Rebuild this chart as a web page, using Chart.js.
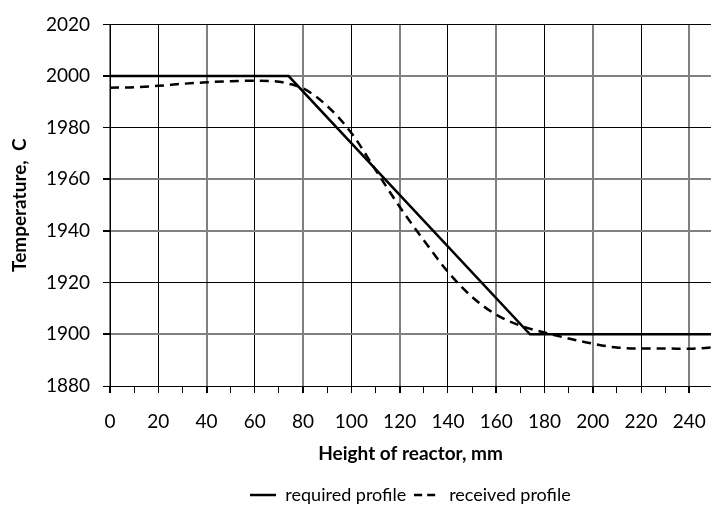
<!DOCTYPE html>
<html>
<head>
<meta charset="utf-8">
<script src="https://cdn.jsdelivr.net/npm/chart.js@4.4.0/dist/chart.umd.min.js"></script>
<style>
    html, body { margin: 0; padding: 0; background: #fff; }
    #wrap { width: 711px; height: 506px; }
</style>
</head>
<body>
<div id="wrap"><canvas id="chart"></canvas></div>
<script>
// required profile (solid)
const heightRequired = [0, 74, 174, 250];
const tempRequired = [2000, 2000, 1900, 1900];

// received profile (dashed)
const heightReceived = [0, 10, 20, 30, 40, 50, 60, 70, 75, 80, 90, 100, 110, 120, 130, 140, 150, 160, 170, 180, 190, 200, 210, 220, 230, 240, 250];
const tempReceived = [1995.5, 1995.7, 1996.2, 1997, 1997.6, 1998, 1998.2, 1997.8, 1996.8, 1995.3, 1988.4, 1978, 1963.7, 1949.4, 1936.4, 1924.2, 1914.5, 1907.6, 1903.4, 1900.7, 1898.4, 1896.4, 1894.9, 1894.5, 1894.5, 1894.4, 1895];

const yTicks = [1880, 1900, 1920, 1940, 1960, 1980, 2000, 2020];
const yBlackLines = [1880, 1920, 1980, 2020];

function toPoints(xs, ys) {
    return xs.map((x, i) => ({ x: x, y: ys[i] }));
}

// small line samples for the legend
function lineSample(dash) {
    const c = document.createElement("canvas");
    c.width = 26;
    c.height = 4;
    const g = c.getContext("2d");
    g.strokeStyle = "#000";
    g.lineWidth = 2.5;
    g.setLineDash(dash);
    g.beginPath();
    g.moveTo(0, 2);
    g.lineTo(26, 2);
    g.stroke();
    return c;
}
const legendSamples = [lineSample([]), lineSample([8, 5])];

const tickFont = { family: "Lato", size: 19 };
const titleFont = { family: "Lato", size: 19, weight: "bold" };

new Chart(document.getElementById("chart"), {
    type: "line",
    data: {
        datasets: [{
            label: "required profile",
            data: toPoints(heightRequired, tempRequired),
            borderColor: "#000",
            backgroundColor: "#000",
            borderWidth: 2.5,
            pointRadius: 0,
            tension: 0
        }, {
            label: "received profile",
            data: toPoints(heightReceived, tempReceived),
            borderColor: "#000",
            backgroundColor: "#000",
            borderWidth: 2.5,
            borderDash: [9, 6],
            pointRadius: 0,
            cubicInterpolationMode: "monotone"
        }]
    },
    options: {
        responsive: true,
        maintainAspectRatio: false,
        animation: false,
        layout: { padding: { left: 0, right: 0, top: 19, bottom: -8 } },
        plugins: {
            tooltip: { enabled: false },
            legend: {
                position: "bottom",
                fullSize: false,
                labels: {
                    font: { family: "Lato", size: 18 },
                    color: "#000",
                    usePointStyle: true,
                    pointStyleWidth: 26,
                    padding: 8,
                    generateLabels: function(chart) {
                        return chart.data.datasets.map((ds, i) => ({
                            text: ds.label,
                            fontColor: "#000",
                            pointStyle: legendSamples[i],
                            datasetIndex: i,
                            hidden: false,
                            lineWidth: 0
                        }));
                    }
                }
            }
        },
        scales: {
            x: {
                type: "linear",
                min: 0,
                max: 249,
                afterBuildTicks: function(scale) {
                    const t = [];
                    for (let v = 0; v <= 240; v += 10) t.push({ value: v });
                    scale.ticks = t;
                },
                afterFit: function(scale) {
                    scale.height = 92;
                    scale.paddingLeft = 0;
                    scale.paddingRight = 0;
                },
                ticks: {
                    includeBounds: false,
                    font: tickFont,
                    color: "#000",
                    padding: 17,
                    maxRotation: 0,
                    autoSkip: false,
                    callback: function(v) { return v % 20 === 0 ? v : ""; }
                },
                grid: {
                    color: function(ctx) {
                        const v = ctx.tick.value;
                        if (v % 20 !== 0) return "rgba(0,0,0,0)";
                        return (v / 20) % 2 === 1 ? "#000" : "#808080";
                    },
                    lineWidth: function(ctx) {
                        const v = ctx.tick.value;
                        return (v % 20 === 0 && (v / 20) % 2 === 0) ? 2 : 1;
                    },
                    tickColor: "#000",
                    tickLength: 7
                },
                border: { color: "#000", width: 1 },
                title: {
                    display: true,
                    text: "Height of reactor, mm",
                    font: titleFont,
                    color: "#000",
                    padding: { top: 0, bottom: 13 }
                }
            },
            y: {
                min: 1880,
                max: 2020,
                afterBuildTicks: function(scale) {
                    scale.ticks = yTicks.map(v => ({ value: v }));
                },
                afterFit: function(scale) { scale.width = 110; },
                ticks: {
                    font: tickFont,
                    color: "#000",
                    padding: 13,
                    callback: function(v) { return String(v); }
                },
                grid: {
                    color: function(ctx) {
                        return yBlackLines.includes(ctx.tick.value) ? "#000" : "#808080";
                    },
                    lineWidth: function(ctx) {
                        return yBlackLines.includes(ctx.tick.value) ? 1 : 2;
                    },
                    tickColor: "#000",
                    tickLength: 7
                },
                border: { color: "#000", width: 1 },
                title: {
                    display: true,
                    text: "Temperature,  C",
                    font: titleFont,
                    color: "#000",
                    padding: { top: 8, bottom: 0 }
                }
            }
        }
    }
});
</script>
</body>
</html>
